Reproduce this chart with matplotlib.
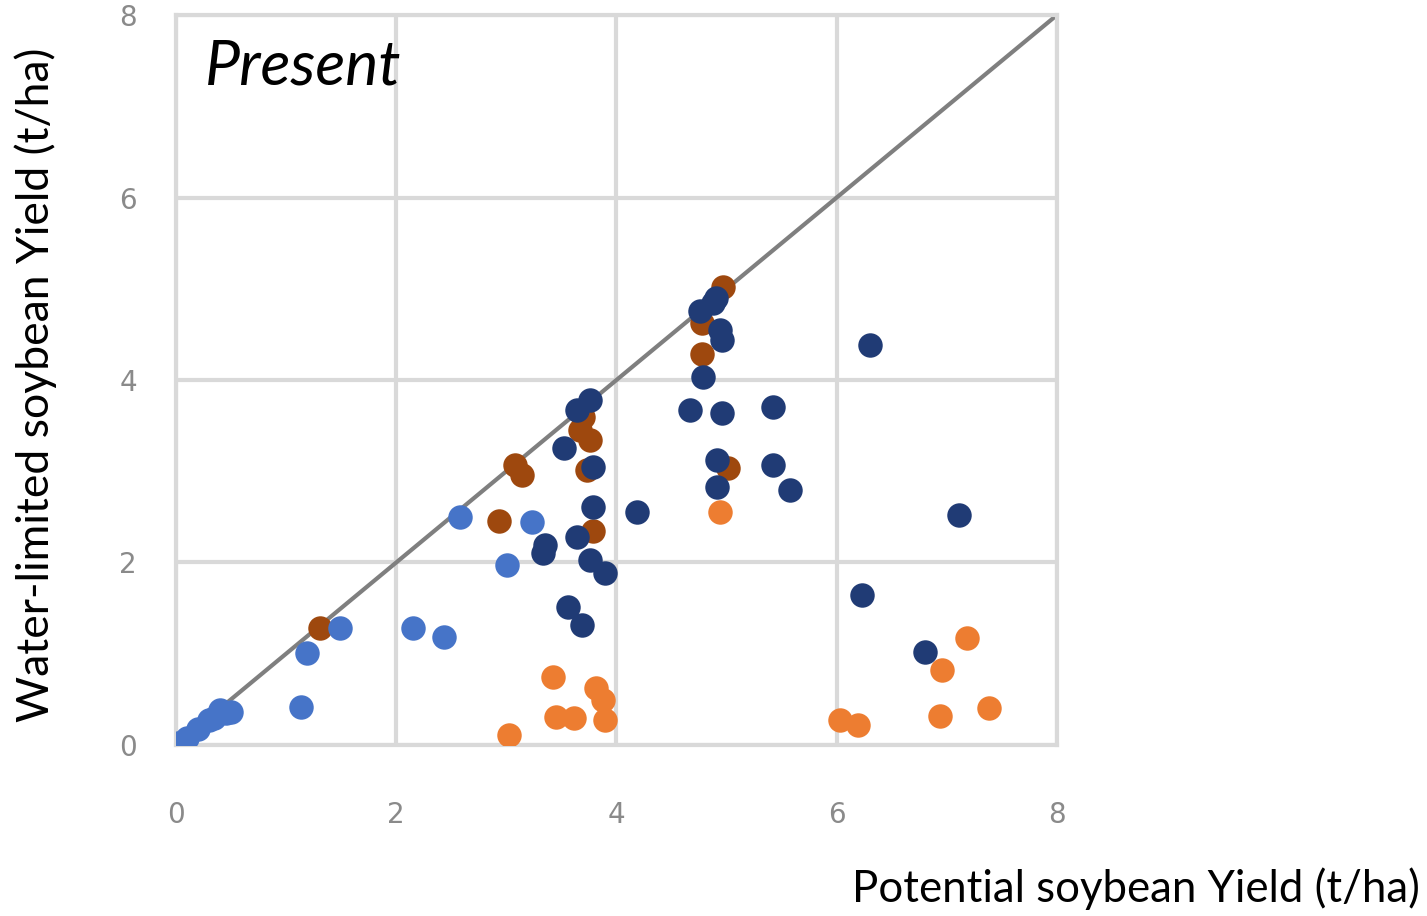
import matplotlib
matplotlib.use("Agg")
import matplotlib.pyplot as plt

# ---- data (t/ha) ----
lightblue_x = [0.02, 0.10, 0.20, 0.30, 0.40, 0.45, 0.50, 0.35, 1.19, 1.49, 1.14, 2.15, 2.43, 2.58, 3.01, 3.23]
lightblue_y = [0.02, 0.08, 0.18, 0.27, 0.38, 0.35, 0.36, 0.30, 1.01, 1.28, 0.42, 1.28, 1.18, 2.50, 1.97, 2.44]

brown_x = [1.31, 3.08, 3.14, 2.93, 3.67, 3.76, 3.73, 3.79, 4.97, 4.78, 4.78, 5.01, 3.70]
brown_y = [1.28, 3.07, 2.96, 2.46, 3.45, 3.34, 3.01, 2.35, 5.02, 4.62, 4.29, 3.04, 3.60]

navy_x = [3.76, 3.64, 3.52, 3.79, 3.79, 4.19, 3.64, 3.33, 3.35, 3.76, 3.90, 3.56, 3.69,
          4.88, 4.94, 4.96, 4.79, 4.67, 4.96, 5.42, 4.91, 4.91, 5.42, 5.58, 4.76, 4.90,
          6.30, 7.11, 6.23, 6.80]
navy_y = [3.78, 3.67, 3.26, 3.05, 2.61, 2.55, 2.28, 2.10, 2.19, 2.03, 1.88, 1.51, 1.31,
          4.84, 4.55, 4.44, 4.03, 3.67, 3.64, 3.70, 3.12, 2.83, 3.07, 2.79, 4.76, 4.90,
          4.38, 2.52, 1.64, 1.02]

orange_x = [3.02, 3.42, 3.45, 3.61, 3.81, 3.88, 3.90, 4.94, 6.03, 6.19, 6.94, 6.96, 7.18, 7.38]
orange_y = [0.11, 0.74, 0.31, 0.30, 0.62, 0.49, 0.27, 2.55, 0.27, 0.22, 0.32, 0.82, 1.17, 0.41]

ticks = [0, 2, 4, 6, 8]
xlabel = "Potential soybean Yield (t/ha)"
ylabel = "Water-limited soybean Yield (t/ha)"
panel_title = "Present"

plt.rcParams['font.family'] = ['Lato', 'DejaVu Sans']

fig = plt.figure(figsize=(14.27, 9.16), dpi=100)
ax = fig.add_axes([0.1233, 0.1867, 0.6174, 0.7969])

ax.set_xlim(0, 8)
ax.set_ylim(0, 8)
ax.set_xticks(ticks)
ax.set_yticks(ticks)
ax.grid(True, color='#d9d9d9', linewidth=3)
ax.set_axisbelow(True)
for s in ax.spines.values():
    s.set_color('#d9d9d9')
    s.set_linewidth(3)
ax.tick_params(length=0, labelsize=20, labelcolor='#8a8a8a')
ax.tick_params(axis='y', pad=28)
ax.tick_params(axis='x', pad=40)
for lab in ax.get_xticklabels() + ax.get_yticklabels():
    lab.set_family(['Liberation Sans Narrow', 'DejaVu Sans'])

ax.plot([0, 8], [0, 8], color='#7f7f7f', linewidth=3, zorder=2)

ms = 310
ax.scatter(brown_x, brown_y, s=ms, color='#9e480e', linewidths=0, zorder=3)
ax.scatter(lightblue_x, lightblue_y, s=ms, color='#4674c8', linewidths=0, zorder=3)
ax.scatter(navy_x, navy_y, s=ms, color='#203b75', linewidths=0, zorder=3)
ax.scatter(orange_x, orange_y, s=ms, color='#ed7d31', linewidths=0, zorder=3)

ax.text(0.033, 0.968, panel_title, transform=ax.transAxes, fontsize=45,
        style='italic', ha='left', va='top', color='black')

fig.text(0.025, 0.58, ylabel, rotation=90, fontsize=32, ha='center', va='center')
fig.text(0.995, 0.03, xlabel, fontsize=31.5, ha='right', va='center')

fig.savefig('out.png', dpi=100)
